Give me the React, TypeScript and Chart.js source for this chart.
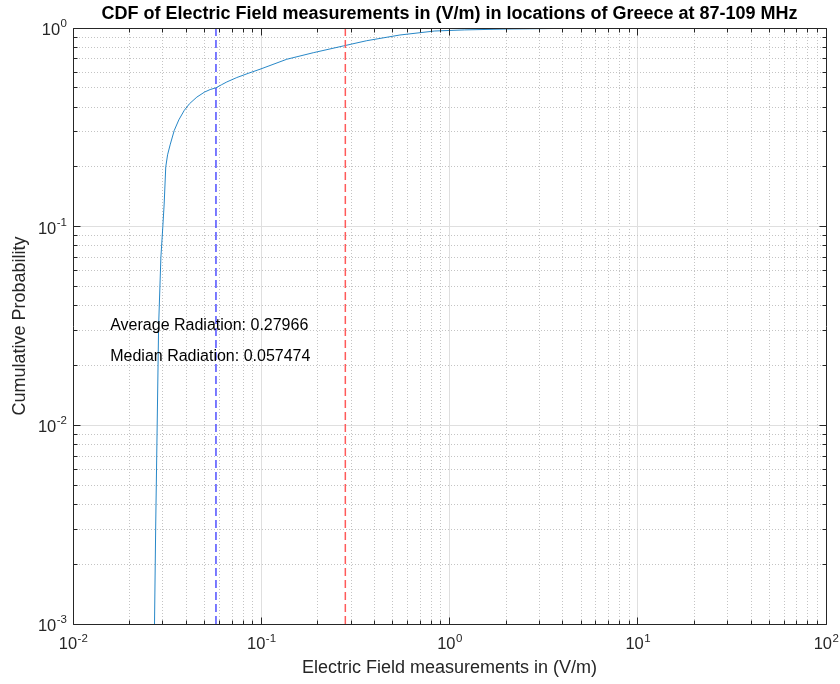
import { useEffect, useRef } from 'react';
import { Chart, registerables } from 'chart.js';

Chart.register(...registerables);

// Empirical CDF of the measured field strength (V/m)
const cdfX = [
  0.0271, 0.0275, 0.028, 0.0285, 0.0293, 0.03, 0.0305, 0.0311, 0.0318, 0.0328,
  0.0345, 0.0365, 0.039, 0.0416, 0.0455, 0.05, 0.0535, 0.0575, 0.0615, 0.0656,
  0.0741, 0.086, 0.0985, 0.1366, 0.189, 0.2726, 0.363, 0.545, 0.836, 1.2, 2.0,
  3.5, 6.0, 10, 22.1,
];
const cdfY = [
  0.001, 0.00315, 0.01, 0.0316, 0.07, 0.1, 0.13, 0.2, 0.23, 0.258,
  0.305, 0.345, 0.385, 0.416, 0.449, 0.476, 0.49, 0.5, 0.518, 0.535,
  0.563, 0.593, 0.62, 0.696, 0.751, 0.812, 0.863, 0.922, 0.966, 0.978, 0.988,
  0.994, 0.997, 0.998, 1.0,
];

const averageValue = 0.27966;
const medianValue = 0.057474;

// Axis decades (exponents of ten) and the minor multipliers between them
const xDecades = [-2, -1, 0, 1, 2];
const yDecades = [-3, -2, -1, 0];
const minorSteps = [2, 3, 4, 5, 6, 7, 8, 9];

const titleText = 'CDF of Electric Field measurements in (V/m) in locations of Greece at 87-109 MHz';
const xTitle = 'Electric Field measurements in (V/m)';
const yTitle = 'Cumulative Probability';
const noteLines = [`Average Radiation: ${averageValue}`, `Median Radiation: ${medianValue}`];
const noteX = 0.01577;
const noteY = [0.0316, 0.0222];

const FONT = '"Liberation Sans", Arial, Helvetica, sans-serif';
const AXIS_COLOR = '#262626';
const MAJOR_GRID = '#dfdfdf';
const MINOR_GRID = '#c4c4c4';

type Tick = { value: number; major: boolean };

function logTicks(exps: number[]): Tick[] {
  const out: Tick[] = [];
  exps.forEach((e, i) => {
    out.push({ value: Math.pow(10, e), major: true });
    if (i < exps.length - 1) {
      minorSteps.forEach((m) => out.push({ value: m * Math.pow(10, e), major: false }));
    }
  });
  return out;
}

const xTicks = logTicks(xDecades);
const yTicks = logTicks(yDecades);

const align = (p: number) => Math.round(p - 0.5) + 0.5;

const axesDecor = {
  id: 'axesDecor',
  afterDatasetsDraw(chart: any) {
    const { ctx, chartArea: a, scales } = chart;
    const xs = scales.x;
    const ys = scales.y;
    const L = align(a.left);
    const R = align(a.right);
    const T = align(a.top);
    const B = align(a.bottom);

    ctx.save();
    ctx.setLineDash([]);
    ctx.strokeStyle = AXIS_COLOR;
    ctx.lineWidth = 1;

    // box with inward ticks on all sides
    ctx.beginPath();
    ctx.rect(L, T, R - L, B - T);
    xTicks.forEach((t) => {
      const p = align(xs.getPixelForValue(t.value));
      const len = t.major ? 7 : 4;
      ctx.moveTo(p, B);
      ctx.lineTo(p, B - len);
      ctx.moveTo(p, T);
      ctx.lineTo(p, T + len);
    });
    yTicks.forEach((t) => {
      const p = align(ys.getPixelForValue(t.value));
      const len = t.major ? 7 : 4;
      ctx.moveTo(L, p);
      ctx.lineTo(L + len, p);
      ctx.moveTo(R, p);
      ctx.lineTo(R - len, p);
    });
    ctx.stroke();

    // power-of-ten tick labels
    const baseFont = `16.5px ${FONT}`;
    const supFont = `11.5px ${FONT}`;
    ctx.fillStyle = AXIS_COLOR;
    ctx.textBaseline = 'alphabetic';
    ctx.textAlign = 'left';
    xDecades.forEach((e) => {
      const p = xs.getPixelForValue(Math.pow(10, e));
      const sup = String(e);
      ctx.font = baseFont;
      const w10 = ctx.measureText('10').width;
      ctx.font = supFont;
      const ws = ctx.measureText(sup).width;
      const start = p - (w10 + ws) / 2;
      ctx.font = baseFont;
      ctx.fillText('10', start, a.bottom + 25);
      ctx.font = supFont;
      ctx.fillText(sup, start + w10 + 0.5, a.bottom + 18);
    });
    yDecades.forEach((e) => {
      const p = ys.getPixelForValue(Math.pow(10, e));
      const sup = String(e);
      ctx.font = supFont;
      const ws = ctx.measureText(sup).width;
      const end = a.left - 6;
      ctx.fillText(sup, end - ws, p - 1);
      ctx.font = baseFont;
      const w10 = ctx.measureText('10').width;
      ctx.fillText('10', end - ws - w10 - 0.5, p + 7);
    });

    // axis titles
    ctx.font = `18px ${FONT}`;
    ctx.textAlign = 'center';
    ctx.textBaseline = 'middle';
    ctx.fillText(xTitle, (a.left + a.right) / 2, 668);
    ctx.save();
    ctx.translate(20, (a.top + a.bottom) / 2);
    ctx.rotate(-Math.PI / 2);
    ctx.fillText(yTitle, 0, 0);
    ctx.restore();

    // chart title
    ctx.fillStyle = '#000000';
    ctx.font = `bold 18px ${FONT}`;
    ctx.fillText(titleText, (a.left + a.right) / 2, 14);

    // value annotations placed in data coordinates
    ctx.font = `16px ${FONT}`;
    ctx.textAlign = 'left';
    noteLines.forEach((line, i) => {
      ctx.fillText(line, xs.getPixelForValue(noteX), ys.getPixelForValue(noteY[i]));
    });

    ctx.restore();
  },
};

export default function App() {
  const canvasRef = useRef<HTMLCanvasElement | null>(null);

  useEffect(() => {
    const canvas = canvasRef.current;
    if (!canvas) return;

    const cdfPoints = cdfX.map((x, i) => ({ x, y: cdfY[i] }));
    const vline = (v: number) => [
      { x: v, y: Math.pow(10, yDecades[0]) },
      { x: v, y: Math.pow(10, yDecades[yDecades.length - 1]) },
    ];

    const chart = new Chart(canvas, {
      type: 'line',
      data: {
        datasets: [
          {
            label: 'Median',
            data: vline(medianValue),
            borderColor: '#5050ff',
            borderWidth: 1.5,
            borderDash: [8, 4],
            pointRadius: 0,
          },
          {
            label: 'Average',
            data: vline(averageValue),
            borderColor: '#ff5a5a',
            borderWidth: 1.5,
            borderDash: [8, 4],
            pointRadius: 0,
          },
          {
            label: 'CDF',
            data: cdfPoints,
            borderColor: 'rgba(0, 114, 189, 0.85)',
            borderWidth: 1,
            pointRadius: 0,
            tension: 0,
          },
        ],
      },
      options: {
        animation: false,
        responsive: false,
        devicePixelRatio: 1,
        layout: { padding: { left: 73, right: 14, top: 28, bottom: 60 } },
        plugins: {
          legend: { display: false },
          tooltip: { enabled: false },
          title: { display: false },
        },
        scales: {
          x: {
            type: 'logarithmic',
            min: Math.pow(10, xDecades[0]),
            max: Math.pow(10, xDecades[xDecades.length - 1]),
            afterBuildTicks: (s: any) => {
              s.ticks = xTicks.map((t) => ({ ...t }));
            },
            ticks: { display: false },
            grid: {
              drawTicks: false,
              lineWidth: 1,
              color: (c: any) => (c.tick && c.tick.major ? MAJOR_GRID : MINOR_GRID),
            },
            border: {
              display: false,
              dash: (c: any) => (c.tick && c.tick.major ? [] : [1, 2]),
            },
          },
          y: {
            type: 'logarithmic',
            min: Math.pow(10, yDecades[0]),
            max: Math.pow(10, yDecades[yDecades.length - 1]),
            afterBuildTicks: (s: any) => {
              s.ticks = yTicks.map((t) => ({ ...t }));
            },
            ticks: { display: false },
            grid: {
              drawTicks: false,
              lineWidth: 1,
              color: (c: any) => (c.tick && c.tick.major ? MAJOR_GRID : MINOR_GRID),
            },
            border: {
              display: false,
              dash: (c: any) => (c.tick && c.tick.major ? [] : [1, 2]),
            },
          },
        },
      } as any,
      plugins: [axesDecor],
    });

    return () => chart.destroy();
  }, []);

  return (
    <div style={{ position: 'fixed', left: 0, top: 0, width: 840, height: 684, background: '#ffffff' }}>
      <canvas ref={canvasRef} width={840} height={684} style={{ display: 'block' }} />
    </div>
  );
}
